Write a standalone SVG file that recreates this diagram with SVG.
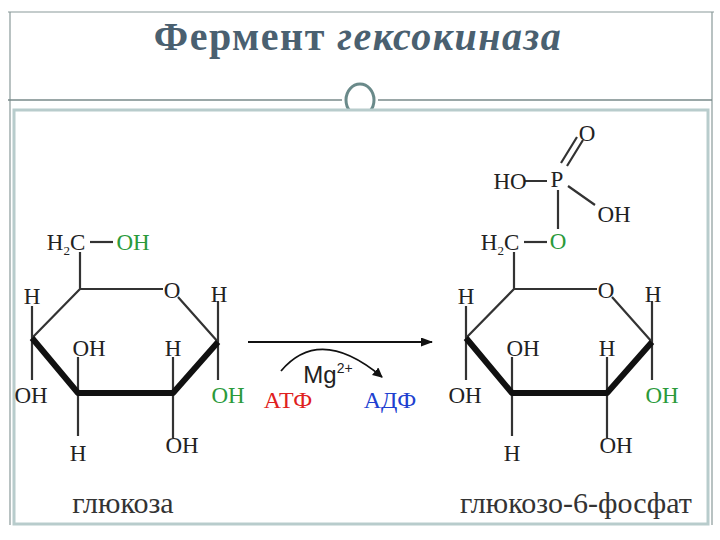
<svg xmlns="http://www.w3.org/2000/svg" width="720" height="540" viewBox="0 0 720 540">
<style>
.t{font-family:"Liberation Serif",serif;font-size:23px;fill:#222;text-anchor:middle}
.b{stroke:#333;stroke-width:2.2;fill:none}
.k{stroke:#111;stroke-width:6;fill:none;stroke-linejoin:round}
.g{fill:#2a9a3a}
.lbl{font-family:"Liberation Serif",serif;font-size:30px;fill:#333;text-anchor:middle}
</style>
<defs>
<marker id="ah" markerWidth="12" markerHeight="9" refX="11" refY="4.5" orient="auto" markerUnits="userSpaceOnUse"><path d="M0,0 L12,4.5 L0,9 Z" fill="#111"/></marker>
<marker id="ah2" markerWidth="11" markerHeight="10" refX="9" refY="5" orient="auto" markerUnits="userSpaceOnUse"><path d="M0,0 L10,5 L0,10 Z" fill="#111"/></marker>
<g id="ring">
<path class="b" d="M80,252 V289 H163 M178,297 L218,342 M80,289 L32,338 M32,306 V338 V380 M78,357 V393 V436 M173,357 V393 V438 M218,301 V342 V380"/>
<path class="k" d="M32,338 L78,393 H173 L218,342"/>
<text class="t" x="32" y="304">H</text>
<text class="t" x="172" y="298">O</text>
<text class="t" x="219" y="302">H</text>
<text class="t" x="89" y="356">OH</text>
<text class="t" x="173" y="356">H</text>
<text class="t" x="31" y="403">OH</text>
<text class="t" x="78" y="461">H</text>
<text class="t" x="182" y="453">OH</text>
</g>
</defs>
<rect width="720" height="540" fill="#fff"/>
<path d="M8,12 H714 M10,12 V525 M712,12 V525" stroke="#8a9a9a" stroke-width="1.2" fill="none"/>
<path d="M8,100 H342 M378,100 H712" stroke="#7a8a8a" stroke-width="1.5"/>
<ellipse cx="360" cy="100" rx="14" ry="16" fill="#fff" stroke="#6a8a8a" stroke-width="3"/>
<rect x="14" y="110" width="694" height="414" fill="#fff" stroke="#b8cccc" stroke-width="3"/>
<text x="358" y="50" font-family="Liberation Serif,serif" font-size="40" font-weight="bold" fill="#4a6070" text-anchor="middle" letter-spacing="1.5">Фермент <tspan font-style="italic">гексокиназа</tspan></text>

<g id="glucose">
<use href="#ring"/>
<text class="t" x="66" y="250">H<tspan font-size="13" dy="5">2</tspan><tspan dy="-5">C</tspan></text>
<path class="b" d="M90,242 H113"/>
<text class="t g" x="133" y="250">OH</text>
<text class="t g" x="228" y="403">OH</text>
<text class="lbl" x="123" y="513">глюкоза</text>
</g>

<g id="g6p">
<use href="#ring" transform="translate(434,0)"/>
<text class="t" x="500" y="250">H<tspan font-size="13" dy="5">2</tspan><tspan dy="-5">C</tspan></text>
<path class="b" d="M524,242 H547"/>
<text class="t g" x="558" y="249">O</text>
<path class="b" d="M558,190 V229 M524,181 H547 M568,186 L595,205 M561,163 L577,137 M567,166 L583,140"/>
<text class="t" x="557" y="187">P</text>
<text class="t" x="510" y="189">HO</text>
<text class="t" x="587" y="141">O</text>
<text class="t" x="614" y="222">OH</text>
<text class="t g" x="662" y="403">OH</text>
<text class="lbl" x="576" y="513">глюкозо-6-фосфат</text>
</g>

<g id="connectors">
<path d="M248,342 H432" stroke="#111" stroke-width="1.8" marker-end="url(#ah)"/>
<path d="M281,371 Q320,325 382,377" stroke="#111" stroke-width="1.8" fill="none" marker-end="url(#ah2)"/>
</g>
<text x="328" y="383" font-family="Liberation Sans,sans-serif" font-size="24" fill="#222" text-anchor="middle">Mg<tspan font-size="14" dy="-10">2+</tspan></text>
<text x="288" y="408" font-family="Liberation Serif,serif" font-size="24" fill="#e02020" text-anchor="middle">АТФ</text>
<text x="390" y="408" font-family="Liberation Serif,serif" font-size="24" fill="#2040d0" text-anchor="middle">АДФ</text>
</svg>
